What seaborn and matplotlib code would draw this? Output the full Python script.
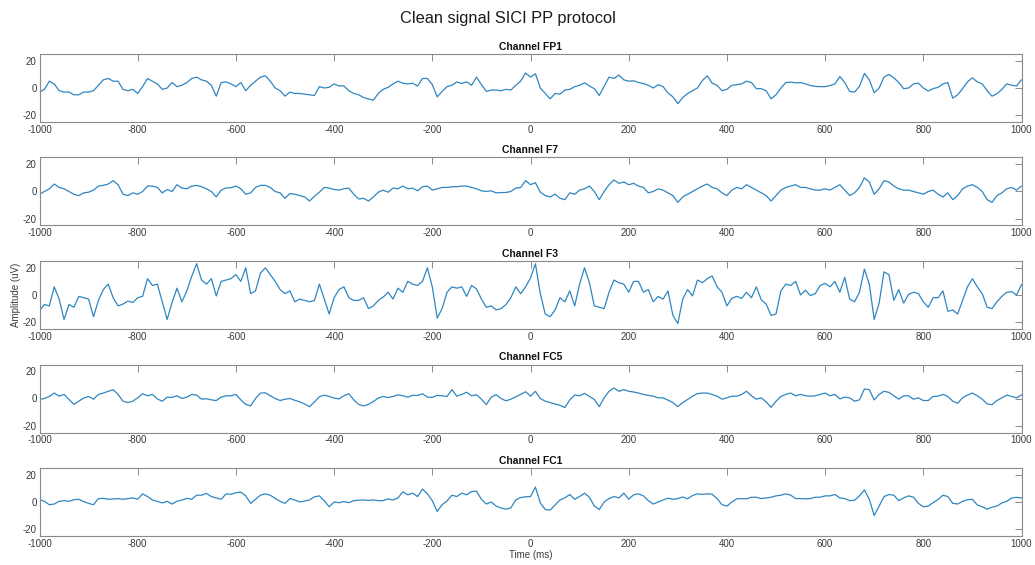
import numpy as np
import matplotlib
matplotlib.use("Agg")
import matplotlib.pyplot as plt
import seaborn as sns

# Epoch time axis (ms), 10 ms resolution
time_ms = np.arange(-1000, 1001, 10)

channels = ["FP1", "F7", "F3", "FC5", "FC1"]

# Amplitudes (uV), one row per 100 ms
fp1 = [
    -3, -1, 5, 3, -2, -3, -3, -5, -5, -3,
    -3, -2, 2, 6, 7, 5, 5, -1, -2, -1,
    -4, 1, 7, 5, 3, -1, 0, 4, 1, 2,
    4, 7, 8, 6, 5, 2, -6, 4, 4.5, 3,
    1, 4, -2, 2, 5, 8, 9, 5, 0, -2,
    -6, -3, -4, -4, -4.5, -5, -5.5, 1, 0, 0.5,
    3, 1.5, 1.5, -2, -4, -5, -7, -8, -9, -4,
    -1, 0.5, 3, 5, 3.5, 3, 3.5, 1.5, 7, 7,
    2.5, -6.5, -2.5, 1, 2, 4.5, 3.3, 4.5, 2, 8,
    2.5, -2.5, -1.5, -1.5, -2, -1, -1.5, 2, 5, 11,
    8, 10.5, 0, -4, -8, -4, -4.5, -1.5, -1, 1,
    2, 3.8, 1.5, -0.5, -5.5, 1.2, 8, 7, 9.5, 6,
    5, 5.3, 4, 3.3, 2, 0, 2.4, 1, -3.6, -6.5,
    -11.5, -7, -4, -2, 0, 5.5, 9, 3.5, 2, -2,
    -1, 2, 2.4, 3, 5, 4, -0.5, -0.5, -2, -8,
    -5, 0, 4, 4.3, 3.8, 4, 3, 1.8, 1.2, 1,
    1, 1.8, 3, 8.5, 4, -2.5, -3, 1.2, 10.7, 6,
    -3.5, 0, 8, 10, 7.5, 4, -0.5, 0, 3, 3.6,
    0, -2.2, -0.5, 0.5, 3, 4, -7.5, -5, -0.5, 4.5,
    7.5, 4.5, 3, -2, -6, -4.2, -1, 3, 2, 1.5,
    6,
]

f7 = [
    -2, 0, 2, 5.5, 3, 2, 0, -2, -3, -1,
    -0.5, 1, 4, 4.5, 5.5, 8, 5, -2, -3, -1,
    -2, 0, 4, 4, 3, -1, 1.5, 0, 5, 2.5,
    2, 4, 4.5, 3.5, 2, 0, -4, 1, 2.6, 2.8,
    4, 2, -2, -1, 3, 4.5, 4.5, 3, 0, -1,
    -5, -1.5, -2, -3, -4, -7, -3.5, -0.5, 3, 2.5,
    1.5, 1, 2, 2.5, -2, -5.5, -5, -7, -4, -0.5,
    1, -0.5, 2.5, 2, 4, 2, 2.5, 0.5, 3.5, 4,
    1, 2, 3, 3, 3.5, 3.5, 4, 4, 3, 2,
    0.5, 0, 0.5, -1, -0.8, -0.7, 0, 2.5, 3, 8,
    5, 6.5, -0.5, -3, -4, -2, -5, -6, -1, -2,
    1, 2, 4, 0, -6, 0, 5, 8.5, 6, 7,
    5, 6, 4, 3, -1, 0, 2, 1, -1, -3,
    -8, -4, -2, 0, 2, 4, 5.5, 3, 2, -1,
    -3, 1, 3, 2, 5, 3, 1, -1, -3, -7,
    -3, 1, 3, 4, 5, 3, 3, 2, 1, 1,
    2, 1, 3, 5, 1, -3, -1, 3, 10, 7,
    -2, 2, 8, 7, 4, 2, 1, 1, 0, -1,
    -2, 0, 1, -2, -4, -1, -6, -3, 2, 4,
    5, 3, 0, -6, -8, -3, -1, 2, 3, 1,
    4,
]

f3 = [
    -11.5, -7, -8, 6, -3, -18, -7, -9, -1, -2,
    -3, -16, -4, 4, 8, -2, -8, -6.7, -4.5, -5.5,
    -2, -1, 12, 7, 8, -5, -18, -5.5, 5, -5,
    3, 13.7, 23, 11, 8, 12, -0.7, 10, 11, 12,
    15, 10, 20, 1, 3, 16, 20, 15, 10, 4,
    1, 3, -5, -3, -4, -5, -4, 8, -3, -14,
    -2, 4, 6, -2, -4, -4, -2, -10, -8, -4,
    -1.5, 2, -3, 5, 2, 10, 8, 7, 10, 20,
    6, -17, -10, 2, 6, 5, 6, -1, 7, 4.5,
    -3, -9, -8, -11, -10, -7, -2, 6, 1, 6,
    12.5, 23, 1, -14, -16, -11, -2, -5, 3, -8,
    8, 20, 9, -8, -9, -10, 2, 11, 9, 8,
    2, 10, 10, 2, 4, -5, -1, -3, 3, -15,
    -21, -3, 4, -0.7, 11, 9, 12, 14, 6, 2,
    -8, -2.5, -1, -2.5, 2, -2, 6, -3.5, -6.7, -15,
    -14, 3, 8, 7, 10, 0, 3.5, -0.5, 1, 7,
    8.5, 6, 10, 2, 13, -3, -5, 2, 19, 8,
    -18, -6, 17, 15, -4, 4, -6, 0.5, 2, 1,
    -5, -9, -2, -2, 3, -12, -11, -14, -4, 6,
    12, 6, 1, -9, -10, -5, -1, 2, 2.5, 0,
    7.7,
]

fc5 = [
    -0.7, 0, 1.5, 4, 1.7, 3, -0.7, -4.3, -2, 0.3,
    1.5, -0.5, 3, 4, 5.3, 6.5, 3, -2, -3, -2,
    0.5, 3.5, 2, 3, -0.3, -2, 1, 0.8, 2, 0,
    1, 3, 2.5, -0.5, -0.2, -1, -1.5, 1, 2, 2,
    3, -1, -4.3, -5.5, 0, 4, 4.2, 2, 0, -1.5,
    -0.5, 0, -1.3, -2.5, -4, -6, -2.5, 1.3, 2.5, 1.5,
    0.3, -0.3, 2, 3.5, -1, -4.3, -5.5, -4.3, -2.2, 0.3,
    1.5, 0.7, 1.5, 2.7, 2, 1, 2.4, 2.2, 3.5, 1,
    0.8, 2.3, 2, 1.5, 6.5, 1.7, 3, 4.6, 2, 2.8,
    -0.5, -4.5, 1, 2.8, 0, -1.7, -0.5, 1.2, 3, 5,
    1.7, 5.3, 0, -2, -3, -4, -5, -6.7, -1, 2.5,
    2, 3.8, 1.5, -0.7, -6, 0.5, 5.3, 7.7, 5.3, 6.5,
    5.3, 4.8, 4, 3, 2.3, 1.7, 0.5, 0.5, -1.2, -3,
    -6, -3, -0.7, 1.7, 3.6, 4, 4, 3, 1.7, -0.5,
    0.5, 1.7, 1.7, 3, 5.3, 2, -0.5, 0.5, -2.5, -6.5,
    -2, 1.5, 3, 4, 2, 3, 2, 1.7, 2, 3,
    4, 2, 3, -0.3, 1, 0.5, -2, -1, 7, 6.5,
    -1, 3, 5.3, 4.5, 2, -0.5, 2, 2, -0.5, 0.5,
    -1.5, -1.5, 1.5, 1.7, 3, 1.5, -2, -3.5, 0.5, 2.5,
    4, 2, -0.5, -4, -4.5, -1.5, 0.5, 2.5, 1.5, 0.5,
    2.7,
]

fc1 = [
    1.7, 0.5, -2, -1.5, 0.5, 1, 0.5, 1.7, 2, 0.3,
    -1, -2, 2.5, 2.7, 2, 2.2, 2.5, 2, 2.5, 3,
    2, 6, 4, 1.5, 0.5, -0.7, 0.5, -1.5, 0.6, 1.4,
    2.7, 2, 5, 5, 6.3, 4, 3, 2, 6, 5.6,
    6.8, 7.3, 4.5, -1, 2, 5, 6, 5, 2.6, 0.5,
    -1, 2.5, 1.5, 0, 0.7, 1.5, 3.8, 4.5, 1, -3.5,
    0, -0.5, 0.3, -0.5, 1, 1.3, 1.5, 1.2, 1.5, 1,
    1, 2.3, 1.5, 3, 7.5, 5.3, 6.5, 4, 9.5, 6,
    1, -7, -2, 0.8, 5, 4, 6.5, 5.3, 7.7, 8,
    2, -1.5, 0, -3, -4.4, -5.3, -4.3, 1.5, 3.3, 3.8,
    4, 11, -0.7, -5.5, -6, -2.3, 1.5, 3, 5.5, 2,
    4, 6.5, 3.5, -3, -5.5, 0, 2.5, 4, 3, 6.5,
    2, 5.3, 6, 4.5, 1, -1.5, 0, 1.5, 2.8, 2,
    2.5, 3.7, 2.3, 4.8, 6, 5.6, 6, 5.7, 2.5, -2,
    -3, 0, 2.3, 2.5, 2.3, 3.5, 3.5, 2.5, 3, 3.5,
    4.5, 5, 6, 5, 2.5, 2.5, 2.3, 2.5, 3.5, 3.5,
    4.5, 4.5, 5.5, 3, 2.5, 1, 1.3, 4.5, 8.9, 2,
    -10, -3, 4, 5.5, 5, 1, 3, 4.5, 3.5, -1,
    -3.5, -3, -0.5, 1.8, 5, 4, -1, -1.5, 0.5, 1.7,
    2, -2.2, -3.5, -5.3, -3.8, -3, -0.7, 0.5, 3, 3.4,
    3,
]

signals = [fp1, f7, f3, fc5, fc1]
x_ticks = list(range(-1000, 1001, 200))
y_ticks = [-20, 0, 20]

sns.set_style("white")
plt.rcParams["font.family"] = ["Liberation Sans", "DejaVu Sans"]
plt.rcParams["axes.unicode_minus"] = False

W, H = 1035, 565
fig = plt.figure(figsize=(W / 100, H / 100), dpi=100)

line_color = "#2f86c2"
frame_color = "#8a8a8a"
text_color = "#3a3a3a"

ax_left, ax_right = 39.5, 1021.5
ax_h = 68
ax_tops = [54, 157.5, 261, 364.5, 468]

axes = []
for top, name, vals in zip(ax_tops, channels, signals):
    ax = fig.add_axes([ax_left / W, 1 - (top + ax_h) / H,
                       (ax_right - ax_left) / W, ax_h / H])
    sns.lineplot(x=time_ms, y=vals, ax=ax, color=line_color, linewidth=0.9)
    ax.set_xlim(-1000, 1000)
    ax.set_ylim(-25, 25)
    ax.set_xticks(x_ticks)
    ax.set_yticks(y_ticks)
    ax.tick_params(direction="in", top=True, right=True, length=5, width=0.7,
                   color=frame_color, labelcolor=text_color, labelsize=7, pad=2)
    for sp in ax.spines.values():
        sp.set_color(frame_color)
        sp.set_linewidth(0.8)
    ax.set_xlabel("")
    ax.set_ylabel("")
    ax.set_title(f"Channel {name}", fontsize=7.5, fontweight="bold",
                 color="#111111", pad=3)
    axes.append(ax)

axes[2].set_ylabel("Amplitude (uV)", fontsize=7, color=text_color, labelpad=1)
axes[-1].set_xlabel("Time (ms)", fontsize=7, color=text_color, labelpad=1)

fig.text(508 / W, 1 - 18 / H, "Clean signal SICI PP protocol",
         ha="center", va="center", fontsize=11.8, color="#1a1a1a")

fig.savefig("out.png", dpi=100)
